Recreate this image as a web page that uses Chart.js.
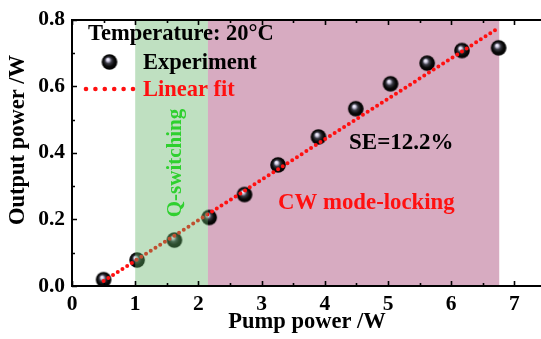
<!DOCTYPE html>
<html>
<head>
<meta charset="utf-8">
<script src="https://cdn.jsdelivr.net/npm/chart.js@4/dist/chart.umd.min.js"></script>
<style>
  html, body { margin: 0; padding: 0; background: #ffffff; overflow: hidden; }
  #wrap { width: 541px; height: 339px; overflow: hidden; }
</style>
</head>
<body>
<div id="wrap"><canvas id="chart" width="555" height="339"></canvas></div>
<script>
  // measured points (pump power in W, output power in W)
  const pumpPower = [0.50, 1.03, 1.62, 2.17, 2.73, 3.26, 3.90, 4.49, 5.04, 5.62, 6.17, 6.75];
  const outputPower = [0.019, 0.078, 0.138, 0.206, 0.275, 0.364, 0.448, 0.533, 0.608, 0.670, 0.708, 0.716];

  // linear fit end points
  const fitX = [0.50, 6.76];
  const fitY = [0.015, 0.777];

  // operating regimes along the pump axis
  const qSwitchRange = [1.0, 2.15];
  const modeLockRange = [2.15, 6.76];

  const xTicks = [0, 1, 2, 3, 4, 5, 6, 7];
  const yTicks = [0.0, 0.2, 0.4, 0.6, 0.8];

  const SERIF = "'Liberation Serif', 'Times New Roman', serif";
  const RED = "#ff1010";

  function makeBall(r) {
    const size = Math.ceil(r * 2 + 2);
    const c = document.createElement("canvas");
    c.width = size;
    c.height = size;
    const g = c.getContext("2d");
    const cx = size / 2, cy = size / 2;
    const grad = g.createRadialGradient(cx - r * 0.25, cy - r * 0.35, 0, cx, cy, r);
    grad.addColorStop(0, "#ffffff");
    grad.addColorStop(0.18, "#d8d4ec");
    grad.addColorStop(0.42, "#3a3a44");
    grad.addColorStop(0.7, "#0a0a0a");
    grad.addColorStop(1, "#000000");
    g.fillStyle = grad;
    g.beginPath();
    g.arc(cx, cy, r, 0, Math.PI * 2);
    g.fill();
    return c;
  }

  const ball = makeBall(7.8);

  const regionsPlugin = {
    id: "regions",
    beforeDatasetsDraw(chart) {
      const { ctx, chartArea, scales } = chart;
      const x0 = scales.x.getPixelForValue(modeLockRange[0]);
      const x1 = scales.x.getPixelForValue(modeLockRange[1]);
      ctx.save();
      ctx.fillStyle = "rgb(215, 171, 193)";
      ctx.fillRect(x0, chartArea.top, x1 - x0, chartArea.bottom - chartArea.top);
      ctx.restore();
    },
    afterDatasetsDraw(chart) {
      const { ctx, chartArea, scales } = chart;
      const x = scales.x, y = scales.y;

      // Q-switching band sits over the data
      const gx0 = x.getPixelForValue(qSwitchRange[0]);
      const gx1 = x.getPixelForValue(qSwitchRange[1]);
      ctx.save();
      ctx.fillStyle = "rgba(95, 178, 100, 0.4)";
      ctx.fillRect(gx0, chartArea.top, gx1 - gx0, chartArea.bottom - chartArea.top);

      // axis frame: left, bottom, top
      ctx.strokeStyle = "#000";
      ctx.lineWidth = 2;
      ctx.beginPath();
      ctx.moveTo(chartArea.left, chartArea.top);
      ctx.lineTo(chartArea.left, chartArea.bottom);
      ctx.moveTo(chartArea.left - 1, chartArea.bottom);
      ctx.lineTo(chartArea.right, chartArea.bottom);
      ctx.moveTo(chartArea.left - 1, chartArea.top);
      ctx.lineTo(chartArea.right, chartArea.top);
      ctx.stroke();

      // inward ticks, major + minor
      ctx.lineWidth = 1.6;
      ctx.beginPath();
      for (let v = 0; v <= 7.5; v += 0.5) {
        const px = Math.round(x.getPixelForValue(v)) + 0.5;
        const len = Number.isInteger(v) ? 5 : 3;
        ctx.moveTo(px, chartArea.bottom);
        ctx.lineTo(px, chartArea.bottom - len);
        ctx.moveTo(px, chartArea.top);
        ctx.lineTo(px, chartArea.top + len);
      }
      for (let i = 0; i <= 8; i++) {
        const py = Math.round(y.getPixelForValue(i / 10)) + 0.5;
        const len = i % 2 === 0 ? 5 : 3;
        ctx.moveTo(chartArea.left, py);
        ctx.lineTo(chartArea.left + len, py);
      }
      ctx.stroke();

      // axis titles
      ctx.fillStyle = "#000";
      ctx.font = "bold 22.5px " + SERIF;
      ctx.textAlign = "center";
      ctx.textBaseline = "middle";
      ctx.fillText("Pump power /W", 307, 322);
      ctx.save();
      ctx.translate(18, 140);
      ctx.rotate(-Math.PI / 2);
      ctx.fillText("Output power /W", 0, 0);
      ctx.restore();

      // legend block
      ctx.textAlign = "left";
      ctx.font = "bold 22.5px " + SERIF;
      ctx.fillText("Temperature: 20\u00b0C", 88, 34);
      ctx.drawImage(ball, 109.5 - ball.width / 2, 62 - ball.height / 2);
      ctx.fillText("Experiment", 143, 63);
      ctx.fillStyle = RED;
      for (let i = 0; i < 6; i++) {
        ctx.beginPath();
        ctx.arc(86 + i * 9.4, 89, 2.3, 0, Math.PI * 2);
        ctx.fill();
      }
      ctx.fillText("Linear fit", 143, 90);

      // annotations
      ctx.fillStyle = "#000";
      ctx.font = "bold 23px " + SERIF;
      ctx.fillText("SE=12.2%", 349, 143);
      ctx.fillStyle = RED;
      ctx.font = "bold 22.8px " + SERIF;
      ctx.fillText("CW mode-locking", 278, 203);
      ctx.fillStyle = "#2fd02f";
      ctx.font = "bold 21px " + SERIF;
      ctx.save();
      ctx.translate(176, 163);
      ctx.rotate(-Math.PI / 2);
      ctx.textAlign = "center";
      ctx.fillText("Q-switching", 0, 0);
      ctx.restore();
      ctx.restore();
    }
  };

  new Chart(document.getElementById("chart"), {
    type: "scatter",
    data: {
      datasets: [
        {
          label: "Experiment",
          data: pumpPower.map((p, i) => ({ x: p, y: outputPower[i] })),
          pointStyle: ball,
          pointRadius: 8,
          pointHoverRadius: 8,
          showLine: false,
          order: 2
        },
        {
          label: "Linear fit",
          type: "line",
          data: fitX.map((p, i) => ({ x: p, y: fitY[i] })),
          borderColor: RED,
          borderWidth: 4,
          borderDash: [0, 5.6],
          borderCapStyle: "round",
          pointRadius: 0,
          fill: false,
          order: 1
        }
      ]
    },
    options: {
      responsive: false,
      animation: false,
      devicePixelRatio: 1,
      layout: { padding: { left: 0, right: 0, top: 15, bottom: 0 } },
      plugins: {
        legend: { display: false },
        tooltip: { enabled: false }
      },
      scales: {
        x: {
          type: "linear",
          min: 0,
          max: 7.5,
          grid: { display: false, drawTicks: false },
          border: { display: false },
          afterBuildTicks: (scale) => {
            scale.ticks = xTicks.map((v) => ({ value: v }));
          },
          afterFit: (scale) => { scale.height = 53; },
          ticks: {
            padding: 6,
            color: "#000",
            font: { family: SERIF, size: 21.5, weight: "bold" },
            callback: (v) => String(v)
          }
        },
        y: {
          type: "linear",
          min: 0,
          max: 0.8,
          grid: { display: false, drawTicks: false },
          border: { display: false },
          afterBuildTicks: (scale) => {
            scale.ticks = yTicks.map((v) => ({ value: v }));
          },
          afterFit: (scale) => { scale.width = 72; },
          ticks: {
            padding: 7,
            color: "#000",
            font: { family: SERIF, size: 21.5, weight: "bold" },
            callback: (v) => Number(v).toFixed(1)
          }
        }
      }
    },
    plugins: [regionsPlugin]
  });
</script>
</body>
</html>
